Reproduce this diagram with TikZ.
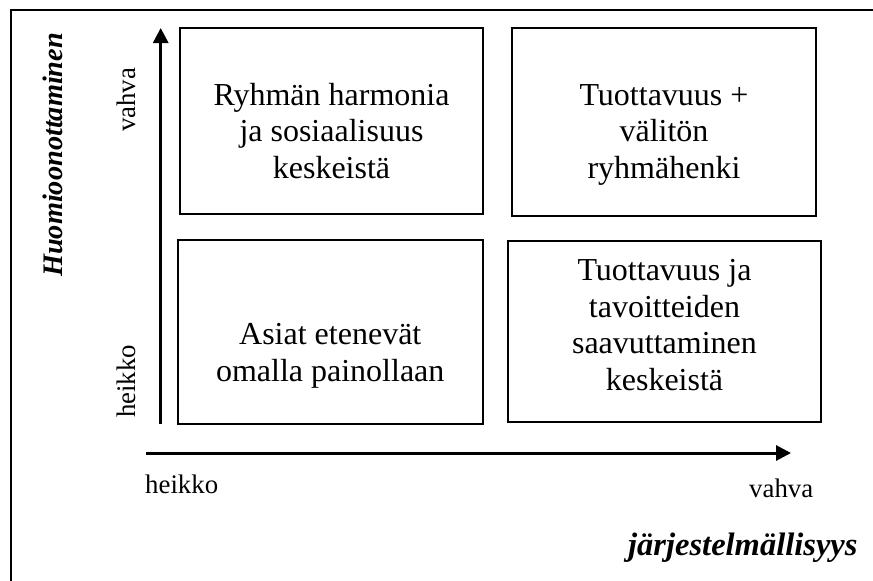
\documentclass[tikz,border=0pt]{standalone}
\usepackage{fontspec}
\setmainfont{Liberation Serif}
\usetikzlibrary{arrows.meta}

\begin{document}
\begin{tikzpicture}[x=1pt,y=-1pt,
  quad/.style={draw, line width=2pt, inner sep=0pt},
  % anchor=base sits on the baseline of the last line
  quadtext/.style={align=center, font=\fontsize{32}{36.5}\selectfont, inner sep=0pt, anchor=base},
  axis/.style={line width=3pt, -{Triangle[length=15pt,width=15pt]}},
  tick/.style={font=\fontsize{26.8}{30}\selectfont, inner sep=0pt, anchor=base west},
  title/.style={font=\fontsize{32.5}{36}\selectfont\bfseries\itshape, inner sep=0pt, anchor=base west}
]
\useasboundingbox (0,0) rectangle (873,581);

% outer frame (top and left edges)
\draw[line width=2pt] (11,581) |- (873,10);

% the four quadrants
\node[quad, minimum width=303pt, minimum height=186pt] (q1) at (331.5,121) {};
\node[quad, minimum width=304pt, minimum height=188pt] (q2) at (664,122) {};
\node[quad, minimum width=304.5pt, minimum height=184pt] (q3) at (330.25,332) {};
\node[quad, minimum width=313pt, minimum height=181pt] (q4) at (664.5,331.5) {};

\node[quadtext] (t1) at (331.5,178) {Ryhmän harmonia\\ja sosiaalisuus\\keskeistä};
\node[quadtext] (t2) at (664,178) {Tuottavuus +\\välitön\\ryhmähenki};
\node[quadtext] (t3) at (330.25,381) {Asiat etenevät\\omalla painollaan};
\node[quadtext] (t4) at (664.5,390) {Tuottavuus ja\\tavoitteiden\\saavuttaminen\\keskeistä};

% axes
\coordinate (yfoot) at (160.7,424);
\coordinate (ytip) at (160.7,28);
\coordinate (xfoot) at (146,453);
\coordinate (xtip) at (791,453);
\draw[axis] (yfoot) -- (ytip);
\draw[axis] (xfoot) -- (xtip);

% axis ends
\node[tick] (xlow) at (145,493) {heikko};
\node[tick] (xhigh) at (749,497) {vahva};
\node[tick, rotate=90] (ylow) at (135,418) {heikko};
\node[tick, rotate=90] (yhigh) at (135,132) {vahva};

% axis titles
\node[title] (xtitle) at (628,555) {järjestelmällisyys};
\node[title, rotate=90, font=\fontsize{28.3}{32}\selectfont\bfseries\itshape] (ytitle) at (62.5,277) {Huomioonottaminen};
\end{tikzpicture}
\end{document}
